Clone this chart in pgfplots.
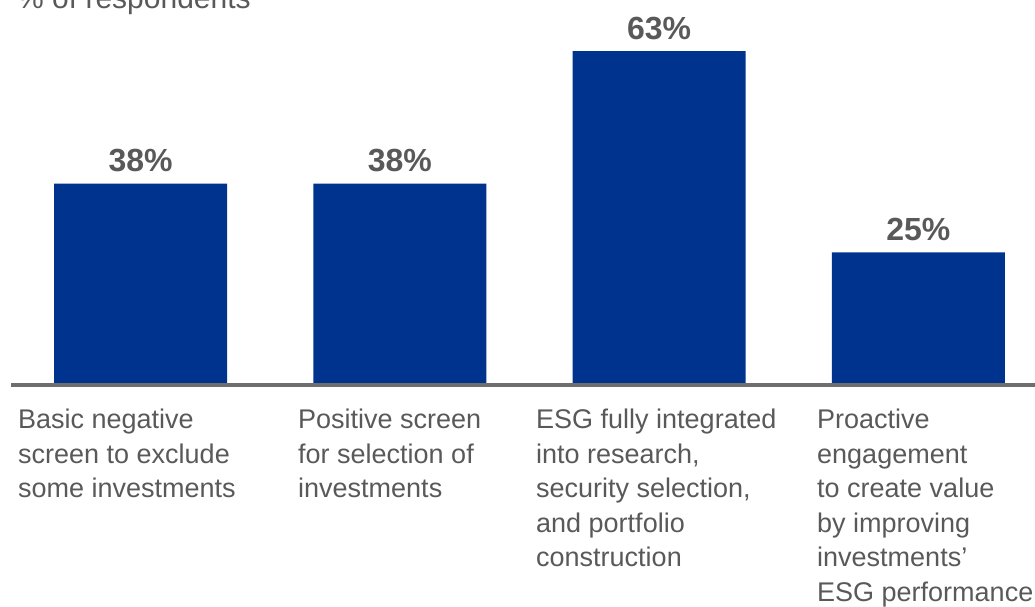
\documentclass[border=0pt]{standalone}
\usepackage{pgfplots}
\pgfplotsset{compat=1.18}
\usepackage{fontspec}
\setmainfont{Liberation Sans}
\definecolor{barblue}{RGB}{0,51,141}
\definecolor{txtgray}{RGB}{89,89,89}
\definecolor{linegray}{RGB}{110,110,110}

\begin{document}
\begin{tikzpicture}[x=1pt,y=1pt]
  \useasboundingbox (0,0) rectangle (1035,606);
  \clip (0,0) rectangle (1035,606);
  \begin{axis}[
    at={(11pt,221pt)}, anchor=south west,
    scale only axis,
    width=1024pt, height=371pt,
    xmin=-0.5, xmax=3.45,
    ymin=0, ymax=70,
    ybar, bar width=173pt,
    axis x line*=bottom,
    axis y line=none,
    x axis line style={linegray, line width=4pt, -},
    xtick=\empty, ytick=\empty,
    axis on top,
    /pgf/number format/assume math mode=true,
    nodes near coords={\pgfmathprintnumber{\pgfplotspointmeta}\%},
    nodes near coords style={font=\fontsize{32}{32}\selectfont\bfseries,
      text=txtgray, anchor=base, yshift=12pt, inner sep=0pt},
  ]
    \addplot[fill=barblue, draw=none] coordinates {(0,38) (1,38) (2,63) (3,25)};
  \end{axis}
  \begin{scope}[every node/.style={anchor=north west, inner sep=0pt,
      align=left, text=txtgray, font=\fontsize{27}{34.5}\selectfont}]
    \node at (18,197) {Basic negative\\screen to exclude\\some investments};
    \node at (298,197) {Positive screen\\for selection of\\investments};
    \node at (536,197) {ESG fully integrated\\into research,\\security selection,\\and portfolio\\construction};
    \node at (817,197) {Proactive\\engagement\\to create value\\by improving\\investments’\\ESG performance};
  \end{scope}
  \node[anchor=base west, inner sep=0pt, text=txtgray,
    font=\fontsize{30}{30}\selectfont] at (17,597) {\% of respondents};
\end{tikzpicture}
\end{document}
